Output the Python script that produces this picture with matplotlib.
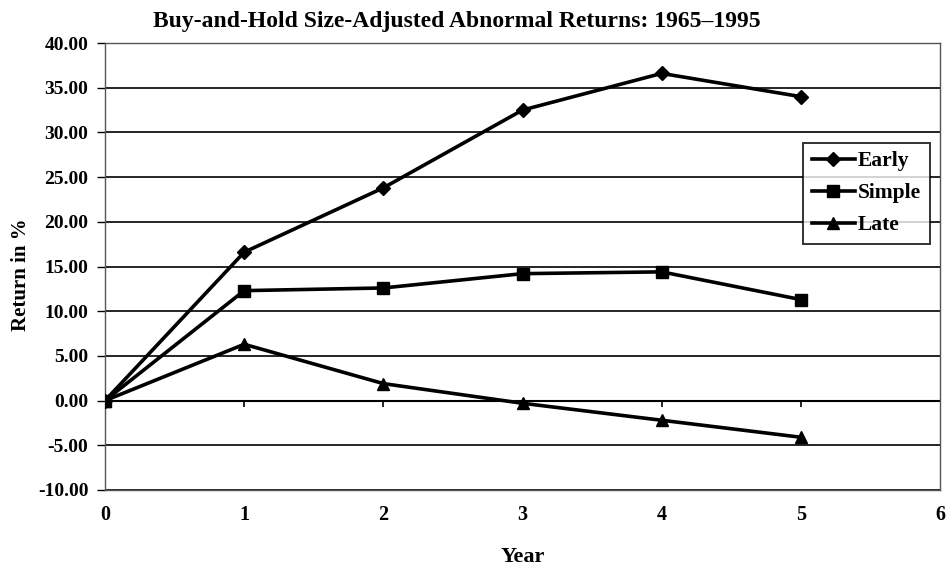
import matplotlib
matplotlib.use("Agg")
import matplotlib.pyplot as plt

years = [0, 1, 2, 3, 4, 5]
early = [0.0, 16.6, 23.8, 32.5, 36.6, 34.0]
simple = [0.0, 12.3, 12.6, 14.2, 14.4, 11.3]
late = [0.0, 6.3, 1.9, -0.3, -2.2, -4.1]
yticks = [-10, -5, 0, 5, 10, 15, 20, 25, 30, 35, 40]
xticks = [0, 1, 2, 3, 4, 5, 6]

plt.rcParams['font.family'] = ['Liberation Serif', 'DejaVu Serif']
plt.rcParams['font.weight'] = 'bold'

fig = plt.figure(figsize=(9.48, 5.66), dpi=100)
ax = fig.add_axes([0.1108, 0.1343, 0.8808, 0.7897])

for y in yticks:
    ax.axhline(y, color='black', lw=1.2 if y != 0 else 1.5, zorder=1)

ax.plot(years, early, color='black', lw=2.6, marker='D', ms=7.5, label='Early', zorder=3)
ax.plot(years, simple, color='black', lw=2.6, marker='s', ms=9, label='Simple', zorder=3)
ax.plot(years, late, color='black', lw=2.6, marker='^', ms=9, label='Late', zorder=3)

# tick marks on the zero line
ax.vlines(xticks[1:-1], -0.7, 0, color='black', lw=1.2, zorder=2)

ax.set_xlim(0, 6)
ax.set_ylim(-10, 40)
ax.set_xticks(xticks)
ax.set_yticks(yticks)
ax.set_yticklabels([f"{v:.2f}" for v in yticks])
ax.tick_params(axis='x', length=0, pad=11, labelsize=14.5)
ax.tick_params(axis='y', length=6, width=1, direction='out', pad=6, labelsize=14)
for lbl in ax.get_xticklabels() + ax.get_yticklabels():
    lbl.set_fontweight('bold')

for s in ax.spines.values():
    s.set_color('#555555')
    s.set_linewidth(1.0)

fig.text(0.482, 0.962, "Buy-and-Hold Size-Adjusted Abnormal Returns: 1965\u20131995",
         fontsize=17, fontweight='bold', ha='center', va='center')
ax.set_xlabel("Year", fontsize=16, fontweight='bold', labelpad=16)
fig.text(0.022, 0.514, "Return in %", fontsize=15, fontweight='bold',
         rotation=90, ha='center', va='center')

leg = ax.legend(loc='upper left', bbox_to_anchor=(0.836, 0.777), frameon=True,
                fancybox=False, edgecolor='black', prop={'weight': 'bold', 'size': 15.5},
                handlelength=2.0, handletextpad=0.15, borderpad=0.4, labelspacing=0.55,
                borderaxespad=0)
leg.get_frame().set_linewidth(1.4)
leg.set_zorder(5)

fig.savefig("out.png", dpi=100, facecolor='white')
